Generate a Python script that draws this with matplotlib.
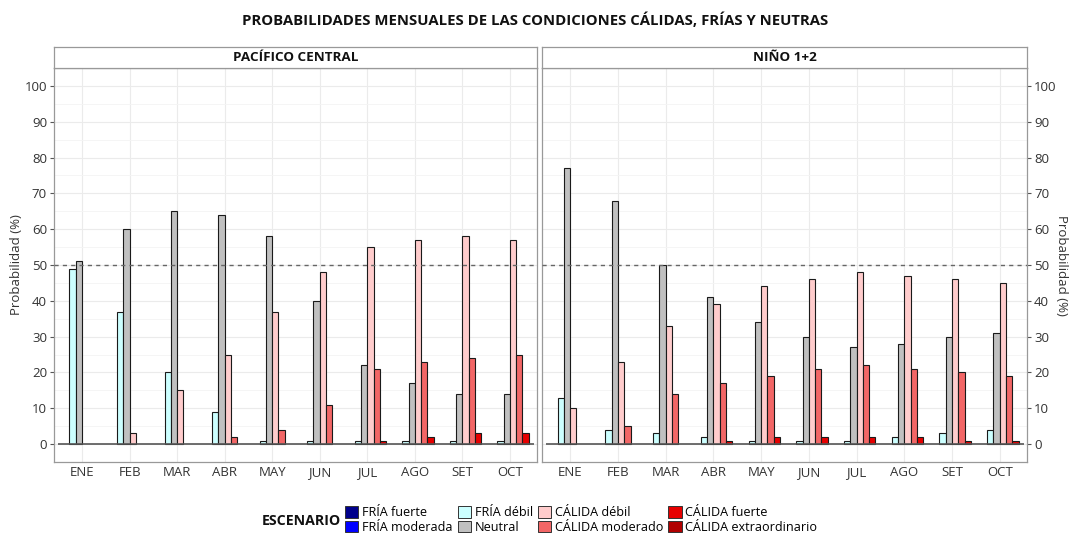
import numpy as np
import matplotlib
matplotlib.use("Agg")
import matplotlib.pyplot as plt
from matplotlib.patches import Patch
from matplotlib.ticker import MultipleLocator

plt.rcParams['font.family'] = ['Open Sans', 'DejaVu Sans']

months = ['ENE', 'FEB', 'MAR', 'ABR', 'MAY', 'JUN', 'JUL', 'AGO', 'SET', 'OCT']
categories = ['FRÍA fuerte', 'FRÍA moderada', 'FRÍA débil', 'Neutral',
              'CÁLIDA débil', 'CÁLIDA moderado', 'CÁLIDA fuerte', 'CÁLIDA extraordinario']
colors = ['#00008B', '#0000FF', '#CCFFFF', '#C0C0C0',
          '#FFCCCC', '#F26666', '#E60000', '#B00000']

# PACÍFICO CENTRAL
pc_fria_fuerte = [0, 0, 0, 0, 0, 0, 0, 0, 0, 0]
pc_fria_moderada = [0, 0, 0, 0, 0, 0, 0, 0, 0, 0]
pc_fria_debil = [49, 37, 20, 9, 1, 1, 1, 1, 1, 1]
pc_neutral = [51, 60, 65, 64, 58, 40, 22, 17, 14, 14]
pc_calida_debil = [0, 3, 15, 25, 37, 48, 55, 57, 58, 57]
pc_calida_moderado = [0, 0, 0, 2, 4, 11, 21, 23, 24, 25]
pc_calida_fuerte = [0, 0, 0, 0, 0, 0, 1, 2, 3, 3]
pc_calida_extra = [0, 0, 0, 0, 0, 0, 0, 0, 0, 0]

# NIÑO 1+2
n12_fria_fuerte = [0, 0, 0, 0, 0, 0, 0, 0, 0, 0]
n12_fria_moderada = [0, 0, 0, 0, 0, 0, 0, 0, 0, 0]
n12_fria_debil = [13, 4, 3, 2, 1, 1, 1, 2, 3, 4]
n12_neutral = [77, 68, 50, 41, 34, 30, 27, 28, 30, 31]
n12_calida_debil = [10, 23, 33, 39, 44, 46, 48, 47, 46, 45]
n12_calida_moderado = [0, 5, 14, 17, 19, 21, 22, 21, 20, 19]
n12_calida_fuerte = [0, 0, 0, 1, 2, 2, 2, 2, 1, 1]
n12_calida_extra = [0, 0, 0, 0, 0, 0, 0, 0, 0, 0]

panels = [
    ('PACÍFICO CENTRAL', [pc_fria_fuerte, pc_fria_moderada, pc_fria_debil, pc_neutral,
                          pc_calida_debil, pc_calida_moderado, pc_calida_fuerte, pc_calida_extra]),
    ('NIÑO 1+2', [n12_fria_fuerte, n12_fria_moderada, n12_fria_debil, n12_neutral,
                  n12_calida_debil, n12_calida_moderado, n12_calida_fuerte, n12_calida_extra]),
]

W, H = 1070, 534
fig = plt.figure(figsize=(W / 100, H / 100), dpi=100)

fig.text(0.5, 1 - 20 / H, 'PROBABILIDADES MENSUALES DE LAS CONDICIONES CÁLIDAS, FRÍAS Y NEUTRAS',
         ha='center', va='center', fontsize=10.7, fontweight='bold', color='#111111')

panel_x = [(54, 537), (542, 1027)]
ptop, pbot = 68, 462
strip_top = 47
x = np.arange(1, len(months) + 1)
bw = 0.132

for k, (name, series) in enumerate(panels):
    x0, x1 = panel_x[k]
    ax = fig.add_axes([x0 / W, 1 - pbot / H, (x1 - x0) / W, (pbot - ptop) / H])
    for i, vals in enumerate(series):
        vals = np.array(vals, dtype=float)
        mask = vals > 0
        ax.bar(x[mask] + (i - 3.5) * bw, vals[mask], width=bw, color=colors[i],
               edgecolor='#1a1a1a', linewidth=0.8, zorder=3)
    ax.set_xlim(0.41, 10.57)
    ax.set_ylim(-5, 105)
    ax.set_xticks(x)
    ax.set_xticklabels(months)
    ax.yaxis.set_major_locator(MultipleLocator(10))
    ax.yaxis.set_minor_locator(MultipleLocator(5))
    ax.grid(which='major', color='#EBEBEB', linewidth=0.8, zorder=0)
    ax.grid(which='minor', axis='y', color='#F4F4F4', linewidth=0.6, zorder=0)
    ax.axhline(50, color='#666666', linestyle=(0, (3, 3)), linewidth=1.0, zorder=4)
    ax.hlines(0, 0.5, 10.5, color='#555555', linewidth=1.2, zorder=4)
    for s in ax.spines.values():
        s.set_color('#999999')
        s.set_linewidth(0.9)
    ax.tick_params(axis='both', which='major', length=3, color='#555555', labelsize=9.5,
                   labelcolor='#333333', pad=2)
    ax.tick_params(axis='x', length=0, pad=3)
    ax.tick_params(axis='y', which='minor', length=0)
    if k == 1:
        ax.yaxis.tick_right()
    # strip
    sax = fig.add_axes([x0 / W, 1 - ptop / H, (x1 - x0) / W, (ptop - strip_top) / H])
    sax.set_xticks([])
    sax.set_yticks([])
    sax.set_facecolor('white')
    for s in sax.spines.values():
        s.set_color('#999999')
        s.set_linewidth(0.9)
    sax.text(0.5, 0.5, name, ha='center', va='center', fontsize=9.7, fontweight='bold',
             color='#111111', transform=sax.transAxes)

ymid = 1 - (ptop + pbot) / 2 / H
fig.text(17 / W, ymid, 'Probabilidad (%)', rotation=90, ha='center', va='center',
         fontsize=9.5, color='#333333')
fig.text(1062 / W, ymid, 'Probabilidad (%)', rotation=-90, ha='center', va='center',
         fontsize=9.5, color='#333333')

handles = [Patch(facecolor=c, edgecolor='#333333', linewidth=0.7) for c in colors]
fig.legend(handles, categories, ncol=4, loc='center left',
           bbox_to_anchor=(345 / W, 1 - 520 / H), frameon=False, fontsize=9.1,
           handlelength=1.05, handleheight=1.0, handletextpad=0.3, columnspacing=0.4,
           labelspacing=0.12, borderaxespad=0, borderpad=0)
fig.text(262 / W, 1 - 521 / H, 'ESCENARIO', ha='left', va='center', fontsize=10.2,
         fontweight='bold', color='#111111')

fig.savefig('out.png', dpi=100)
